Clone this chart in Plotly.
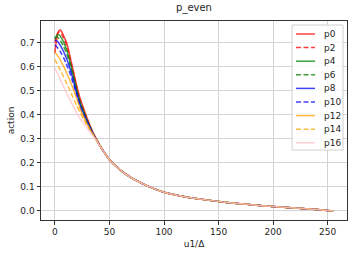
import plotly.graph_objects as go

x_head = [0, 1, 2, 3, 4, 5, 6, 8, 10, 12, 14, 16, 18, 20, 23, 26, 30, 35, 40]
x_tail = [45, 50, 60, 70, 80, 90, 100, 120, 140, 160, 180, 200, 220, 240, 255]
tail = [0.245, 0.213, 0.170, 0.138, 0.114, 0.094, 0.078, 0.058, 0.045, 0.034, 0.026, 0.018, 0.012, 0.006, 0.0]

p0 = [0.655, 0.695, 0.725, 0.743, 0.751, 0.752, 0.747, 0.728, 0.708, 0.680, 0.640, 0.600, 0.560, 0.520, 0.470, 0.430, 0.380, 0.325, 0.282]
p2 = [0.700, 0.720, 0.735, 0.742, 0.744, 0.741, 0.735, 0.718, 0.695, 0.665, 0.628, 0.590, 0.551, 0.512, 0.462, 0.424, 0.377, 0.324, 0.282]
p4 = [0.715, 0.725, 0.731, 0.733, 0.731, 0.726, 0.719, 0.702, 0.680, 0.652, 0.617, 0.580, 0.542, 0.504, 0.455, 0.418, 0.373, 0.323, 0.281]
p6 = [0.720, 0.723, 0.723, 0.720, 0.715, 0.709, 0.701, 0.684, 0.662, 0.636, 0.604, 0.569, 0.533, 0.496, 0.448, 0.413, 0.369, 0.321, 0.281]
p8 = [0.710, 0.709, 0.706, 0.701, 0.695, 0.688, 0.680, 0.662, 0.641, 0.617, 0.589, 0.557, 0.523, 0.488, 0.442, 0.407, 0.366, 0.320, 0.280]
p10 = [0.690, 0.686, 0.681, 0.675, 0.669, 0.662, 0.654, 0.636, 0.616, 0.594, 0.569, 0.541, 0.511, 0.479, 0.435, 0.401, 0.362, 0.319, 0.280]
p12 = [0.660, 0.655, 0.649, 0.642, 0.635, 0.627, 0.619, 0.601, 0.582, 0.561, 0.539, 0.516, 0.492, 0.467, 0.427, 0.395, 0.358, 0.318, 0.280]
p14 = [0.630, 0.621, 0.612, 0.603, 0.594, 0.585, 0.576, 0.557, 0.538, 0.518, 0.498, 0.478, 0.458, 0.438, 0.410, 0.384, 0.352, 0.316, 0.279]
p16 = [0.595, 0.585, 0.575, 0.565, 0.555, 0.545, 0.535, 0.516, 0.497, 0.478, 0.460, 0.442, 0.425, 0.408, 0.385, 0.365, 0.342, 0.313, 0.279]

names = ["p0", "p2", "p4", "p6", "p8", "p10", "p12", "p14", "p16"]
series = [p0, p2, p4, p6, p8, p10, p12, p14, p16]
colors = ["rgba(255,0,0,0.75)", "rgba(255,0,0,0.75)", "rgba(0,128,0,0.75)", "rgba(0,128,0,0.75)",
          "rgba(0,0,255,0.75)", "rgba(0,0,255,0.75)", "rgba(255,165,0,0.75)", "rgba(255,165,0,0.75)",
          "rgba(255,192,203,0.75)"]
dashes = ["solid", "5px,2.5px", "solid", "5px,2.5px", "solid", "5px,2.5px", "solid", "5px,2.5px", "solid"]

W, H = 354, 256
ML, MR, MT, MB = 41, 7, 21, 36
PW, PH = W - ML - MR, H - MT - MB

def px(X):
    return (X - ML) / PW

def py(Y):
    return (H - MB - Y) / PH

xs = x_head + x_tail
fig = go.Figure()
for name, ys, c, d in zip(names, series, colors, dashes):
    fig.add_trace(go.Scatter(x=xs, y=ys + tail, mode="lines", name=name, showlegend=False,
                             line=dict(color=c, width=1.5, dash=d, shape="spline", smoothing=0.6)))

# hand-drawn legend (matplotlib-like compact spacing)
shapes = [dict(type="rect", xref="paper", yref="paper", x0=px(292), x1=px(343), y0=py(150), y1=py(25),
               line=dict(color="#d0d0d0", width=1), fillcolor="rgba(255,255,255,0.85)", layer="above")]
annotations = []
for i, (name, c, d) in enumerate(zip(names, colors, dashes)):
    yc = 34 + 13.6 * i
    shapes.append(dict(type="line", xref="paper", yref="paper", x0=px(296), x1=px(315), y0=py(yc), y1=py(yc),
                       line=dict(color=c, width=1.5, dash=d), layer="above"))
    annotations.append(dict(text=name, xref="paper", yref="paper", x=px(322), y=py(yc), xanchor="left",
                            yanchor="middle", showarrow=False,
                            font=dict(family="DejaVu Sans", size=9, color="#262626")))

axis_common = dict(showline=True, mirror=True, linecolor="#333333", linewidth=1,
                   ticks="outside", ticklen=3.5, tickcolor="#333333", tickwidth=0.8,
                   showgrid=True, gridcolor="#d3d3d3", gridwidth=0.8, zeroline=False, automargin=False,
                   tickfont=dict(family="DejaVu Sans", size=9, color="#262626"))

fig.update_layout(
    width=W, height=H,
    margin=dict(l=ML, r=MR, t=MT, b=MB),
    paper_bgcolor="white", plot_bgcolor="white",
    title=dict(text="p_even", x=0.5, xref="paper", y=1, yref="container", yanchor="top", pad=dict(t=4),
               font=dict(family="DejaVu Sans", size=10, color="#262626")),
    xaxis=dict(range=[-12.75, 267.75], tickvals=[0, 50, 100, 150, 200, 250],
               title=dict(text="u1/Δ", standoff=4, font=dict(family="DejaVu Sans", size=9, color="#262626")),
               **axis_common),
    yaxis=dict(range=[-0.0376, 0.7896], tickvals=[0.0, 0.1, 0.2, 0.3, 0.4, 0.5, 0.6, 0.7], tickformat=".1f",
               title=dict(text="action", standoff=4, font=dict(family="DejaVu Sans", size=9, color="#262626")),
               **axis_common),
    shapes=shapes,
    annotations=annotations,
    showlegend=False,
)

fig.write_html("out.html", config={"displayModeBar": False},
               post_script="document.body.style.margin='0';document.body.style.overflow='hidden';")
